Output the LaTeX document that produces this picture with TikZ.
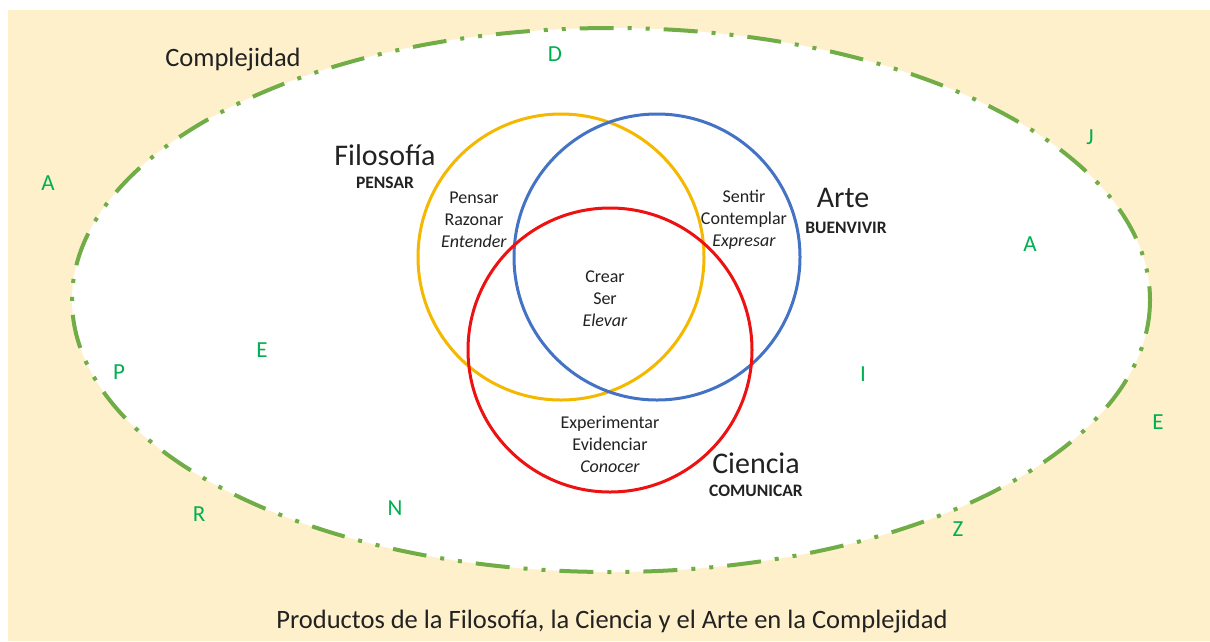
\documentclass[tikz,border=0pt]{standalone}
\usepackage{fontspec}
\setmainfont{Carlito}
\definecolor{beige}{HTML}{FFF0CC}
\definecolor{dgreen}{HTML}{70AD47}
\definecolor{lgreen}{HTML}{00B050}
\definecolor{cyellow}{HTML}{F5B800}
\definecolor{cblue}{HTML}{4472C4}
\definecolor{cred}{HTML}{EE1111}
\definecolor{txt}{HTML}{222222}
\begin{document}
\begin{tikzpicture}[x=1pt,y=-1pt,
  letter/.style={text=lgreen,font=\fontsize{23}{26}\selectfont,inner sep=0pt},
  small/.style={align=center,text=txt,font=\fontsize{18}{22}\selectfont,inner sep=0pt},
  big/.style={text=txt,font=\fontsize{30}{32}\selectfont,inner sep=0pt},
  tag/.style={text=txt,font=\bfseries\fontsize{17.5}{20}\selectfont,inner sep=0pt},
  circ/.style={line width=3pt}]
\useasboundingbox (0,0) rectangle (1210,641);
\fill[white] (0,0) rectangle (1210,641);
\fill[beige] (8,10) rectangle (1210,641);
% complexity ellipse
\draw[dgreen,fill=white,line width=4pt,dash pattern=on 34pt off 14pt on 4pt off 14pt on 4pt off 14pt]
  (611,300) ellipse [x radius=539, y radius=272];
% circles
\draw[circ,cyellow] (561,257) circle [radius=143];
\draw[circ,cblue] (657,257) circle [radius=143];
\draw[circ,cred] (610,350) circle [radius=142];
% titles
\node[text=txt,font=\fontsize{26.5}{30}\selectfont,inner sep=0pt] (comp) at (233,60) {Complejidad};
\node[big] (fil) at (385,155) {Filosofía};
\node[tag] (pen) at (385,183) {PENSAR};
\node[big] (arte) at (843,198) {Arte};
\node[tag] (buen) at (846,228) {BUENVIVIR};
\node[big] (cien) at (756,463) {Ciencia};
\node[tag] (comu) at (756,491) {COMUNICAR};
% region texts
\node[small] (r1) at (474,220) {Pensar\\Razonar\\\textit{Entender}};
\node[small] (r2) at (744,220) {Sentir\\Contemplar\\\textit{Expresar}};
\node[small] (r3) at (605,299) {Crear\\Ser\\\textit{Elevar}};
\node[small] (r4) at (610,444) {Experimentar\\Evidenciar\\\textit{Conocer}};
% letters
\node[letter] (lD) at (555,54) {D};
\node[letter] (lJ) at (1090,137) {J};
\node[letter] (lA1) at (48,183) {A};
\node[letter] (lA2) at (1030,244) {A};
\node[letter] (lE1) at (262,350) {E};
\node[letter] (lP) at (119,372) {P};
\node[letter] (lI) at (863,374) {I};
\node[letter] (lE2) at (1158,422) {E};
\node[letter] (lR) at (199,514) {R};
\node[letter] (lN) at (395,508) {N};
\node[letter] (lZ) at (958,529) {Z};
% caption
\node[text=txt,font=\fontsize{26.5}{30}\selectfont,inner sep=0pt] (cap) at (612,622) {Productos de la Filosofía, la Ciencia y el Arte en la Complejidad};
\end{tikzpicture}
\end{document}
